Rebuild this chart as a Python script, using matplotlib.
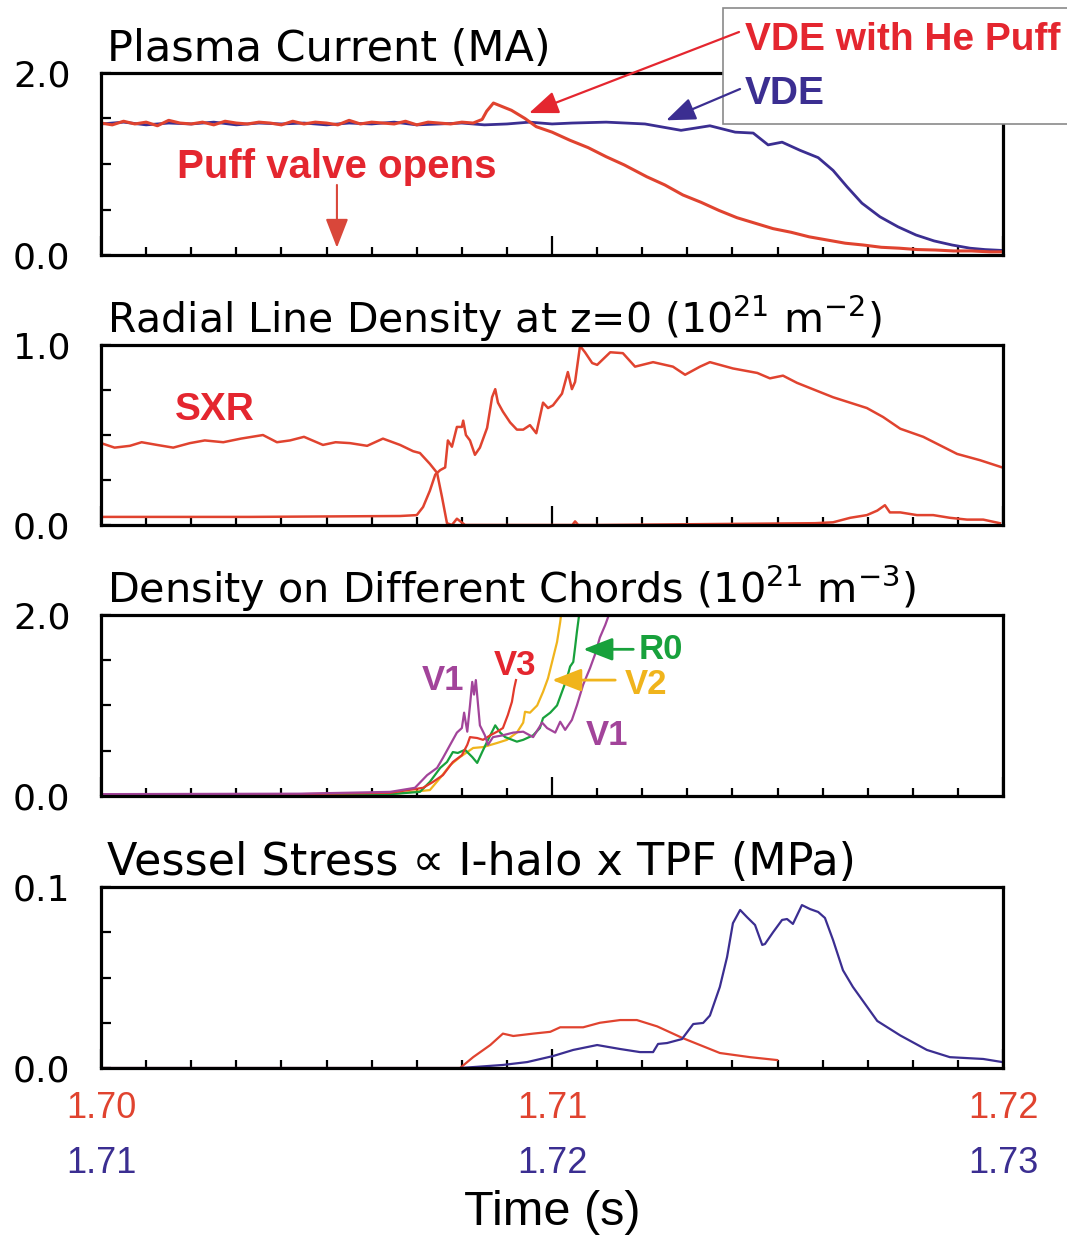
import matplotlib
matplotlib.use("Agg")
import matplotlib.pyplot as plt
from matplotlib.patches import Rectangle, ConnectionPatch

# colours
RED = "#e0432f"
RED_TXT = "#e4262f"
BLUE = "#3b2e91"
PURPLE = "#a2449a"
GREEN = "#18a13c"
YELLOW = "#f0b41c"

NARROW = ["Liberation Sans", "DejaVu Sans"]

# time in ms: He-puff shot after 1.700 s, plain VDE shot after 1.710 s
# --- plasma current (MA)
t_ip_he = [0.0, 0.25, 0.5, 0.75, 1.0, 1.25, 1.5, 1.75, 2.0, 2.25, 2.5, 2.75,
           3.0, 3.25, 3.5, 3.75, 4.0, 4.25, 4.5, 4.75, 5.0, 5.25, 5.5, 5.75,
           6.0, 6.25, 6.5, 6.75, 7.0, 7.25, 7.5, 7.75, 8.0, 8.25, 8.45, 8.55,
           8.7, 8.9, 9.1, 9.4, 9.65, 10.0, 10.4, 10.8, 11.2, 11.6, 12.1, 12.5,
           12.9, 13.3, 13.7, 14.1, 14.5, 14.9, 15.3, 15.7, 16.1, 16.5, 16.9,
           17.3, 17.7, 18.1, 18.5, 18.9, 19.3, 19.7, 20.0]
ip_he = [1.45, 1.43, 1.47, 1.44, 1.46, 1.42, 1.48, 1.45, 1.44, 1.46, 1.43, 1.47,
         1.45, 1.44, 1.46, 1.45, 1.43, 1.47, 1.44, 1.46, 1.45, 1.43, 1.48, 1.44,
         1.46, 1.45, 1.44, 1.47, 1.43, 1.46, 1.45, 1.44, 1.46, 1.45, 1.49, 1.58,
         1.67, 1.63, 1.59, 1.50, 1.41, 1.35, 1.26, 1.18, 1.08, 0.99, 0.86, 0.77,
         0.66, 0.58, 0.49, 0.41, 0.35, 0.29, 0.25, 0.20, 0.165, 0.13, 0.11,
         0.085, 0.075, 0.06, 0.055, 0.045, 0.045, 0.035, 0.035]

t_ip_vde = [0.0, 0.5, 1.0, 1.5, 2.0, 2.5, 3.0, 3.5, 4.0, 4.5, 5.0, 5.5, 6.0, 6.5,
            7.0, 7.5, 8.0, 8.5, 9.0, 9.5, 10.0, 10.44, 11.2, 12.06, 12.86, 13.5,
            14.06, 14.46, 14.79, 15.1, 15.5, 15.9, 16.23, 16.54, 16.87, 17.27,
            17.67, 18.07, 18.47, 18.87, 19.27, 19.6, 20.0]
ip_vde = [1.44, 1.46, 1.43, 1.45, 1.44, 1.46, 1.43, 1.45, 1.44, 1.45, 1.43, 1.45,
          1.44, 1.46, 1.43, 1.44, 1.45, 1.43, 1.44, 1.46, 1.44, 1.45, 1.46, 1.44,
          1.37, 1.42, 1.35, 1.34, 1.21, 1.24, 1.15, 1.07, 0.93, 0.75, 0.57,
          0.42, 0.31, 0.22, 0.155, 0.11, 0.075, 0.06, 0.05]

# --- radial line density and SXR
t_nl = [0.0, 3.3, 6.63, 7.0, 7.14, 7.29, 7.41, 7.52, 7.63, 7.69, 7.78, 7.89, 8.0,
        8.03, 8.09, 8.18, 8.29, 8.4, 8.56, 8.67, 8.74, 8.8, 8.91, 9.07, 9.22,
        9.36, 9.51, 9.65, 9.8, 9.91, 10.02, 10.22, 10.35, 10.44, 10.51, 10.62,
        10.73, 10.89, 11.0, 11.29, 11.57, 11.84, 12.24, 12.68, 12.95, 13.28,
        13.5, 14.01, 14.55, 14.83, 15.12, 15.43, 16.23, 16.98, 17.34, 17.72,
        18.23, 18.98, 19.49, 19.98]
nl = [0.045, 0.045, 0.05, 0.055, 0.1, 0.19, 0.28, 0.305, 0.32, 0.47, 0.435,
      0.545, 0.545, 0.58, 0.5, 0.47, 0.39, 0.43, 0.54, 0.71, 0.755, 0.68, 0.63,
      0.57, 0.53, 0.53, 0.555, 0.51, 0.68, 0.65, 0.665, 0.73, 0.85, 0.755,
      0.795, 0.995, 0.96, 0.9, 0.89, 0.96, 0.955, 0.88, 0.905, 0.88, 0.835,
      0.88, 0.905, 0.87, 0.845, 0.815, 0.83, 0.79, 0.71, 0.65, 0.6, 0.535,
      0.49, 0.395, 0.36, 0.32]

t_sxr = [0.0, 0.3, 0.64, 0.9, 1.24, 1.6, 1.97, 2.3, 2.71, 3.1, 3.59, 3.9, 4.19,
         4.5, 4.92, 5.2, 5.52, 5.9, 6.25, 6.63, 6.92, 7.07, 7.29, 7.45, 7.56,
         7.67, 7.78, 7.89, 8.07, 8.4, 9.29, 10.45, 10.51, 10.58, 11.06, 15.83,
         16.23, 16.61, 16.98, 17.21, 17.38, 17.49, 17.72, 18.09, 18.45, 18.82,
         19.2, 19.56, 19.93]
sxr = [0.455, 0.43, 0.44, 0.46, 0.445, 0.43, 0.455, 0.47, 0.46, 0.48, 0.5, 0.46,
       0.47, 0.49, 0.445, 0.46, 0.455, 0.44, 0.48, 0.445, 0.41, 0.4, 0.34, 0.29,
       0.155, 0.01, 0.0, 0.035, 0.0, 0.0, 0.0, 0.0, 0.02, 0.0, 0.0, 0.01,
       0.015, 0.04, 0.055, 0.08, 0.11, 0.07, 0.07, 0.055, 0.055, 0.04, 0.03,
       0.03, 0.01]

# --- chord densities (1e21 m^-3)
t_v1 = [0.0, 4.41, 6.41, 6.96, 7.23, 7.45, 7.58, 7.74, 7.89, 8.0, 8.05, 8.12,
        8.18, 8.23, 8.27, 8.31, 8.36, 8.4, 8.51, 8.58, 8.69, 8.91, 9.14, 9.36,
        9.58, 9.78, 9.89, 10.07, 10.18, 10.29, 10.44, 10.55, 10.69, 10.84,
        10.95, 11.06, 11.18, 11.26]
v1 = [0.02, 0.025, 0.045, 0.09, 0.23, 0.31, 0.42, 0.565, 0.7, 0.75, 0.92, 0.71,
      1.0, 1.26, 1.12, 1.28, 1.0, 0.78, 0.67, 0.565, 0.65, 0.67, 0.7, 0.71,
      0.65, 0.81, 0.75, 0.7, 0.82, 0.73, 0.84, 1.0, 1.23, 1.41, 1.56, 1.75,
      1.89, 2.0]

t_v3 = [0.0, 4.41, 6.41, 7.14, 7.36, 7.58, 7.8, 8.0, 8.12, 8.18, 8.34, 8.47,
        8.63, 8.78, 8.91, 9.02, 9.11, 9.16, 9.2]
v3 = [0.02, 0.02, 0.035, 0.09, 0.155, 0.23, 0.375, 0.45, 0.565, 0.65, 0.64,
      0.62, 0.67, 0.71, 0.75, 0.895, 1.04, 1.19, 1.28]

t_r0 = [0.0, 4.41, 6.41, 7.07, 7.29, 7.52, 7.67, 7.8, 7.91, 8.07, 8.23, 8.34,
        8.45, 8.56, 8.67, 8.74, 8.85, 8.96, 9.22, 9.36, 9.58, 9.73, 9.8, 9.96,
        10.11, 10.22, 10.33, 10.4, 10.47, 10.51, 10.55, 10.6]
r0 = [0.02, 0.02, 0.02, 0.045, 0.155, 0.31, 0.375, 0.485, 0.475, 0.51, 0.43,
      0.365, 0.485, 0.6, 0.71, 0.78, 0.7, 0.65, 0.6, 0.62, 0.67, 0.75, 0.86,
      0.92, 1.0, 1.15, 1.3, 1.43, 1.48, 1.64, 1.81, 2.0]

t_v2 = [0.0, 4.41, 6.41, 7.29, 7.52, 7.74, 7.96, 8.25, 8.47, 8.78, 9.0, 9.22,
        9.36, 9.4, 9.51, 9.67, 9.8, 9.91, 10.02, 10.11, 10.18, 10.2]
v2 = [0.02, 0.02, 0.02, 0.065, 0.2, 0.34, 0.43, 0.53, 0.54, 0.585, 0.62, 0.7,
      0.81, 0.93, 0.92, 1.0, 1.15, 1.3, 1.52, 1.7, 1.92, 2.0]

# --- vessel stress (MPa)
t_st_he = [0.0, 7.96, 8.25, 8.63, 8.91, 9.14, 9.58, 9.96, 10.18, 10.69, 11.06,
           11.51, 11.88, 12.33, 12.9, 13.28, 13.72, 14.39, 14.99]
st_he = [0.0, 0.0, 0.006, 0.0127, 0.019, 0.0177, 0.019, 0.02, 0.0225, 0.0225,
         0.025, 0.0265, 0.0265, 0.023, 0.0165, 0.0127, 0.0083, 0.006, 0.0044]

t_st_vde = [0.0, 7.96, 8.91, 9.45, 10.02, 10.47, 11.0, 11.51, 11.95, 12.24,
            12.35, 12.55, 12.88, 13.13, 13.35, 13.5, 13.72, 13.88, 14.01, 14.17,
            14.32, 14.5, 14.66, 14.72, 14.9, 15.1, 15.21, 15.34, 15.54, 15.72,
            15.9, 16.05, 16.23, 16.45, 16.67, 17.21, 17.72, 18.31, 18.82, 19.56,
            19.98]
st_vde = [0.0, 0.0, 0.0017, 0.0033, 0.0066, 0.01, 0.0127, 0.0105, 0.0088,
          0.0088, 0.0133, 0.0138, 0.016, 0.0243, 0.0249, 0.029, 0.0448, 0.0613,
          0.08, 0.0873, 0.0834, 0.079, 0.068, 0.0685, 0.075, 0.0818, 0.0823,
          0.0796, 0.09, 0.0878, 0.0862, 0.0829, 0.0707, 0.054, 0.0448, 0.026,
          0.018, 0.01, 0.006, 0.005, 0.0033]

titles = ["Plasma Current (MA)",
          r"Radial Line Density at z=0 (10$^{21}$ m$^{-2}$)",
          r"Density on Different Chords (10$^{21}$ m$^{-3}$)",
          "Vessel Stress \u221d I-halo x TPF (MPa)"]
title_sizes = [31, 29.5, 29.8, 32]
ymax = [2.0, 1.0, 2.0, 0.1]
ytop_labels = ["2.0", "1.0", "2.0", "0.1"]

fig = plt.figure(figsize=(10.67, 12.35), dpi=100)
boxes = [(0.0947, 0.7935, 0.8454, 0.1474),
         (0.0947, 0.5749, 0.8454, 0.1457),
         (0.0947, 0.3555, 0.8454, 0.1466),
         (0.0947, 0.1352, 0.8454, 0.1466)]
axes = [fig.add_axes(b) for b in boxes]

for ax, title, fs, ym, ylab in zip(axes, titles, title_sizes, ymax, ytop_labels):
    ax.set_xlim(0, 20)
    ax.set_ylim(0, ym)
    for s in ax.spines.values():
        s.set_linewidth(2.3)
    ax.set_xticks([0, 10, 20])
    ax.set_xticks(range(0, 21), minor=True)
    ax.set_xticklabels([])
    ax.tick_params(axis="x", which="major", direction="in", length=14, width=1.6)
    ax.tick_params(axis="x", which="minor", direction="in", length=6, width=1.6)
    ax.set_yticks([ym * k / 4 for k in range(5)])
    ax.set_yticklabels(["0.0", "", "", "", ylab])
    ax.tick_params(axis="y", direction="in", length=7, width=1.6, pad=22,
                   labelsize=26)
    ax.text(0.007, 1.065, title, transform=ax.transAxes, fontsize=fs,
            va="baseline", ha="left")

ax1, ax2, ax3, ax4 = axes

# plasma current
ax1.plot(t_ip_vde, ip_vde, color=BLUE, lw=2.0)
ax1.plot(t_ip_he, ip_he, color=RED, lw=2.2)
ax1.text(5.23, 0.97, "Puff valve opens", color=RED_TXT, fontsize=29,
         fontweight="bold", family=NARROW, ha="center", va="center")
ax1.annotate("", xy=(5.23, 0.08), xytext=(5.23, 0.77),
             arrowprops=dict(arrowstyle="-|>,head_length=0.9,head_width=0.35",
                             mutation_scale=20, color="#d9473a", lw=1.5,
                             shrinkA=0, shrinkB=0))

# density panel
ax2.plot(t_sxr, sxr, color=RED, lw=1.8)
ax2.plot(t_nl, nl, color=RED, lw=1.8)
ax2.text(2.53, 0.64, "SXR", color=RED_TXT, fontsize=28, fontweight="bold",
         family=NARROW, ha="center", va="center")

# chords
ax3.plot(t_v2, v2, color=YELLOW, lw=1.6)
ax3.plot(t_r0, r0, color=GREEN, lw=1.6)
ax3.plot(t_v3, v3, color="#e23a2c", lw=1.6)
ax3.plot(t_v1, v1, color=PURPLE, lw=1.6)
chord_labels = [("V1", 7.58, 1.27, PURPLE), ("V3", 9.18, 1.44, RED_TXT),
                ("R0", 12.42, 1.62, GREEN), ("V2", 12.08, 1.23, YELLOW),
                ("V1", 11.22, 0.67, PURPLE)]
for lab, x, y, c in chord_labels:
    ax3.text(x, y, lab, color=c, fontsize=25, fontweight="bold", family=NARROW,
             ha="center", va="center")
for (x0, x1, y, c) in [(11.8, 10.69, 1.62, GREEN), (11.4, 10.0, 1.28, YELLOW)]:
    ax3.annotate("", xy=(x1, y), xytext=(x0, y),
                 arrowprops=dict(arrowstyle="-|>,head_length=0.9,head_width=0.35",
                                 mutation_scale=20, color=c, lw=2,
                                 shrinkA=0, shrinkB=0))

# vessel stress
ax4.plot(t_st_he, st_he, color=RED, lw=1.6)
ax4.plot(t_st_vde, st_vde, color=BLUE, lw=1.6)

# time labels for the two shots
xt = ax4.get_xaxis_transform()
for x, a, b in [(0, "1.70", "1.71"), (10, "1.71", "1.72"), (20, "1.72", "1.73")]:
    ax4.text(x, -0.221, a, transform=xt, color=RED, fontsize=26, family=NARROW,
             ha="center", va="center")
    ax4.text(x, -0.525, b, transform=xt, color=BLUE, fontsize=26, family=NARROW,
             ha="center", va="center")
ax4.text(10, -0.80, "Time (s)", transform=xt, fontsize=35, family=NARROW,
         ha="center", va="center")

# legend box above the first panel
fig.add_artist(Rectangle((723 / 1067, 1 - 124 / 1235), 0.4, 116 / 1235,
                         transform=fig.transFigure, facecolor="white",
                         edgecolor="#8a8a8a", lw=1.2, zorder=5))
fig.text(745 / 1067, 1 - 40 / 1235, "VDE with He Puff", color=RED_TXT,
         fontsize=28, fontweight="bold", family=NARROW, va="center", zorder=6)
fig.text(745 / 1067, 1 - 94 / 1235, "VDE", color=BLUE, fontsize=28,
         fontweight="bold", family=NARROW, va="center", zorder=6)
for tail, tip, c in [((739 / 1067, 1 - 32 / 1235), (9.49, 1.56), "#e4262f"),
                     ((740 / 1067, 1 - 89 / 1235), (12.53, 1.48), BLUE)]:
    con = ConnectionPatch(xyA=tail, coordsA="figure fraction", xyB=tip,
                          coordsB=ax1.transData,
                          arrowstyle="-|>,head_length=0.9,head_width=0.35",
                          mutation_scale=20, color=c, lw=1.6, zorder=7,
                          shrinkA=0, shrinkB=0)
    fig.add_artist(con)

fig.savefig("out.png", dpi=100)
